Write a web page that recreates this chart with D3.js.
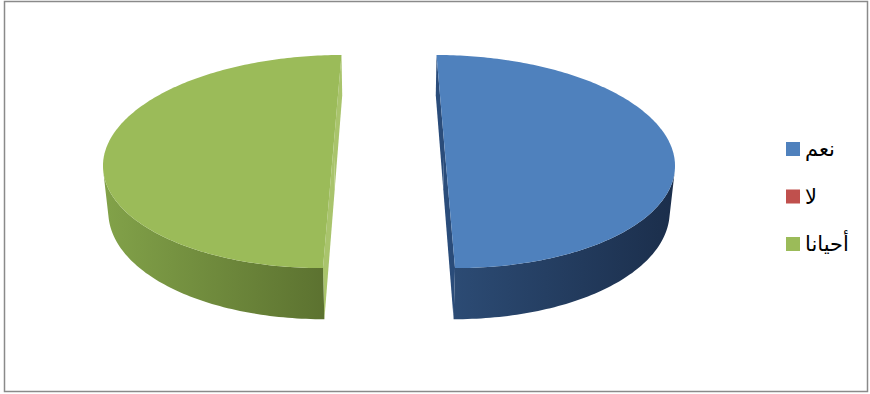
<!DOCTYPE html>
<html><head><meta charset="utf-8">
<script src="https://cdn.jsdelivr.net/npm/d3@7"></script>
<style>body{margin:0;background:#fff;overflow:hidden}</style>
</head><body>
<script>
// ---- data ----
const categories = ["نعم", "لا", "أحيانا"];
const values = [50, 0, 50];
const topColors = ["#4F81BD", "#C0504D", "#9BBB59"];
const cutColors = ["#2a4c7a", "#8c3836", "#a9c46c"];
const wallLight = ["#2c4b74", "#9a3b39", "#82a249"];
const wallDark = ["#1b2e4b", "#6e2826", "#5c7230"];

const W = 870, H = 394;
const svg = d3.select("body").append("svg").attr("width", W).attr("height", H);
const defs = svg.append("defs");

// frame
svg.append("rect").attr("x", 4.5).attr("y", 1.5).attr("width", 863).attr("height", 390)
  .attr("fill", "#fff").attr("stroke", "#8a8a8a").attr("stroke-width", 1.5);

// ---- 3D projection ----
const tilt = 26.7 * Math.PI / 180, cT = Math.cos(tilt), sT = Math.sin(tilt);
const Dist = 5.48, focal = 1265, cx = 389, cy = 144.2;
const explode = 0.2394, thick = 0.223, kx = 0.979;
function proj(X, Y, Z) {
  const depth = Dist - (Z * cT + Y * sT);
  const u = Y * cT - Z * sT;
  return [cx + focal * X / depth, cy - focal * u / depth];
}
const camera = [0, Dist * sT, Dist * cT];

const pie = d3.pie().sort(null).value(d => d).startAngle(0).endAngle(2 * Math.PI);
const arcs = pie(values);
const line = d3.line();
const N = 180;

arcs.forEach((a, i) => {
  if (a.endAngle - a.startAngle < 1e-6) return;
  const mid = (a.startAngle + a.endAngle) / 2;
  const ox = explode * Math.sin(mid), oz = -explode * Math.cos(mid);
  const rim = (ang, Y) => proj(ox + kx * Math.sin(ang), Y, oz - Math.cos(ang));
  const g = svg.append("g");
  const angs = d3.range(N + 1).map(k => a.startAngle + (a.endAngle - a.startAngle) * k / N);

  // cut faces
  [a.startAngle, a.endAngle].forEach(ang => {
    const pts = [proj(ox, 0, oz), rim(ang, 0), rim(ang, -thick), proj(ox, -thick, oz)];
    g.append("path").attr("d", line(pts) + "Z").attr("fill", cutColors[i]);
  });

  // visible outer wall
  const vis = angs.filter(ang => {
    const nC = -Math.cos(ang) * camera[2];
    const nP = 1 + ox * Math.sin(ang) - oz * Math.cos(ang);
    return nC - nP > 0;
  });
  if (vis.length > 1) {
    const topPts = vis.map(ang => rim(ang, 0));
    const botPts = vis.map(ang => rim(ang, -thick)).reverse();
    const xs = topPts.concat(botPts).map(p => p[0]);
    const gid = "wall" + i;
    const lg = defs.append("linearGradient").attr("id", gid)
      .attr("gradientUnits", "userSpaceOnUse")
      .attr("x1", d3.min(xs)).attr("x2", d3.max(xs)).attr("y1", 0).attr("y2", 0);
    lg.append("stop").attr("offset", 0).attr("stop-color", wallLight[i]);
    lg.append("stop").attr("offset", 1).attr("stop-color", wallDark[i]);
    g.append("path").attr("d", line(topPts.concat(botPts)) + "Z").attr("fill", `url(#${gid})`);
  }

  // top face
  const topFace = [proj(ox, 0, oz)].concat(angs.map(ang => rim(ang, 0)));
  g.append("path").attr("d", line(topFace) + "Z").attr("fill", topColors[i]);
});

// ---- legend ----
const legend = svg.append("g");
categories.forEach((c, i) => {
  const y = 142 + i * 47.5;
  legend.append("rect").attr("x", 786).attr("y", y).attr("width", 14).attr("height", 14)
    .attr("fill", topColors[i]);
  legend.append("text").attr("x", 805).attr("y", y + 14)
    .attr("font-family", "DejaVu Sans, sans-serif").attr("font-size", 21)
    .attr("fill", "#000").text(c);
});
</script>
</body></html>
